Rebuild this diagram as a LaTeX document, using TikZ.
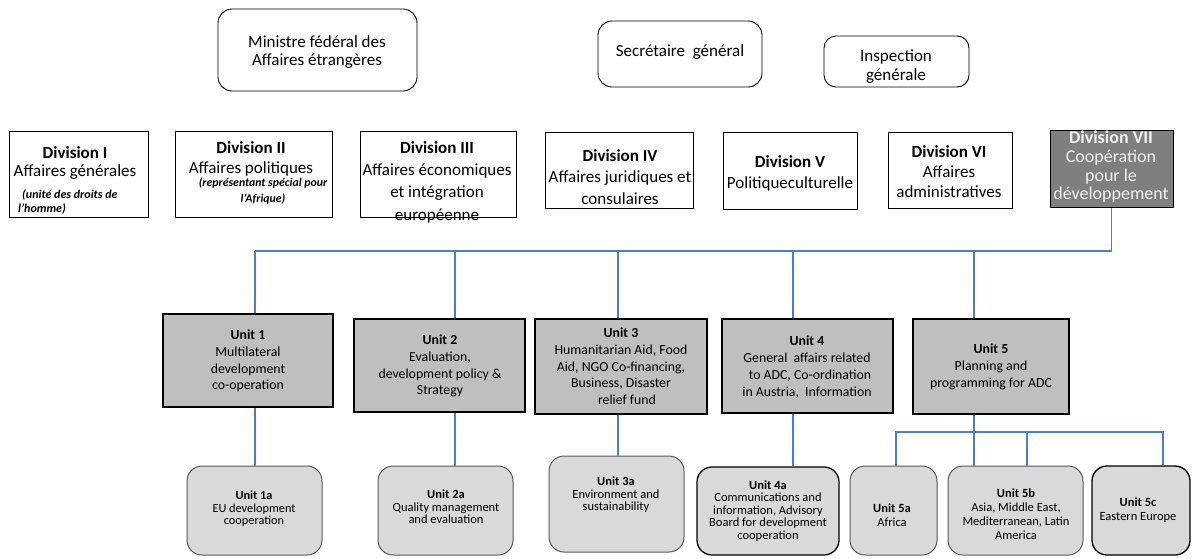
\documentclass[tikz,border=0pt]{standalone}
\usepackage{fontspec}
\setmainfont{Carlito}
\definecolor{connblue}{HTML}{4A7EC8}
\definecolor{unitgray}{HTML}{BFBFBF}
\definecolor{subgray}{HTML}{D9D9D9}
\definecolor{darkdiv}{HTML}{7F7F7F}
\definecolor{subborder}{HTML}{595959}
\newcommand\fsz[2]{\fontsize{#1}{#2}\selectfont}
\begin{document}
\begin{tikzpicture}[x=1pt,y=-1pt,
  topbox/.style={draw=black, line width=0.9pt, rounded corners=14pt, inner sep=0pt},
  divbox/.style={draw=black, line width=1pt, inner sep=0pt},
  unitbox/.style={draw=black, line width=1.2pt, fill=unitgray, inner sep=0pt},
  subbox/.style={draw=subborder, line width=1pt, fill=subgray, rounded corners=15pt, inner sep=0pt},
  subboxdark/.style={subbox, draw=black, line width=1.3pt},
  txt/.style={align=center, inner sep=0pt},
  conn/.style={draw=connblue, line width=1.1pt}]
\useasboundingbox (0,0) rectangle (1192,558);

% top row
\node[topbox, minimum width=199pt, minimum height=82pt] (min) at (317.5,50) {};
\node[txt, font=\fsz{17}{18.5}] (mint) at (317,52) {Ministre fédéral des\\Affaires étrangères};
\node[topbox, minimum width=164pt, minimum height=66pt] (sec) at (680,54) {};
\node[txt, font=\fsz{17}{18.5}] (sect) at (680,52) {Secrétaire~ général};
\node[topbox, rounded corners=12pt, minimum width=145pt, minimum height=51pt] (insp) at (896.5,61.5) {};
\node[txt, font=\fsz{17}{19}] (inspt) at (896,67) {Inspection\\générale};

% divisions
\node[divbox, minimum width=139pt, minimum height=86pt] (d1) at (78.5,174) {};
\node[txt, font=\fsz{17}{18}] (d1t) at (75,163) {\textbf{Division I}\\Affaires générales};
\node[txt, align=left, anchor=west, font=\fsz{12}{14}\bfseries\itshape] (d1n) at (18,202) {\hspace*{4pt}(unité des droits de\\l'homme)};

\node[divbox, minimum width=157pt, minimum height=86pt] (d2) at (253.5,174) {};
\node[txt, font=\fsz{17}{20}] (d2t) at (251,159) {\textbf{Division II}\\Affaires politiques};
\node[txt, font=\fsz{11.8}{15.5}\bfseries\itshape] (d2n) at (263,191) {(représentant spécial pour\\l'Afrique)};

\node[divbox, minimum width=156pt, minimum height=86pt] (d3) at (438,174) {};
\node[txt, font=\fsz{17}{22.3}] (d3t) at (437,182) {\textbf{Division III}\\Affaires économiques\\et intégration\\européenne};

\node[divbox, minimum width=148pt, minimum height=76pt] (d4) at (619,170) {};
\node[txt, font=\fsz{17}{21.5}] (d4t) at (620,177) {\textbf{Division IV}\\Affaires juridiques et\\consulaires};

\node[divbox, minimum width=134pt, minimum height=77pt] (d5) at (790,170.5) {};
\node[txt, font=\fsz{17}{21}] (d5t) at (790,173.5) {\textbf{Division V}\\Politiqueculturelle};

\node[divbox, minimum width=124pt, minimum height=76pt] (d6) at (950,170) {};
\node[txt, font=\fsz{17}{20}] (d6t) at (949,172) {\textbf{Division VI}\\Affaires\\administratives};

\node[divbox, fill=darkdiv, minimum width=123pt, minimum height=77pt] (d7) at (1111.5,168.5) {};
\node[txt, text=gray!12, font=\fsz{18}{18.7}] (d7t) at (1111,167) {\textbf{Division VII}\\Coopération\\pour le\\développement};

% units
\node[unitbox, minimum width=170pt, minimum height=93pt] (u1) at (248,360.5) {};
\node[txt, font=\fsz{13.8}{16.7}] (u1t) at (248,361) {\textbf{Unit 1}\\Multilateral\\development\\co-operation};
\node[unitbox, minimum width=171pt, minimum height=93pt] (u2) at (439.5,365.5) {};
\node[txt, font=\fsz{13.8}{16.7}] (u2t) at (440,366) {\textbf{Unit 2}\\Evaluation,\\development policy \&\\Strategy};
\node[unitbox, minimum width=172pt, minimum height=95pt] (u3) at (621,366.5) {};
\node[txt, font=\fsz{13.8}{16.7}] (u3t) at (621,366.5) {\textbf{Unit 3}\\Humanitarian Aid, Food\\Aid, NGO Co-financing,\\Business, Disaster\\\hspace*{12pt}relief fund};
\node[unitbox, minimum width=171pt, minimum height=94pt] (u4) at (807.5,366) {};
\node[txt, font=\fsz{13.8}{16.7}] (u4t) at (807,367) {\textbf{Unit 4}\\General~ affairs related\\\hspace*{6pt}to ADC, Co-ordination\\in Austria,~ Information};
\node[unitbox, minimum width=156pt, minimum height=95pt] (u5) at (991,366.5) {};
\node[txt, font=\fsz{13.8}{16.7}] (u5t) at (991,367) {\textbf{Unit 5}\\Planning and\\programming for ADC};

% sub-units
\node[subbox, minimum width=135pt, minimum height=89pt] (b1) at (254.5,510.5) {};
\node[txt, font=\fsz{12.3}{12.5}] (b1t) at (254,509) {\textbf{Unit 1a}\\EU development\\cooperation};
\node[subbox, minimum width=135pt, minimum height=89pt] (b2) at (445.5,510.5) {};
\node[txt, font=\fsz{12.5}{12.5}] (b2t) at (446,507) {\textbf{Unit 2a}\\Quality management\\and evaluation};
\node[subbox, minimum width=135pt, minimum height=96pt] (b3) at (616.5,504) {};
\node[txt, font=\fsz{12.5}{12.5}] (b3t) at (616,495) {\textbf{Unit 3a}\\Environment and\\sustainability};
\node[subboxdark, minimum width=142pt, minimum height=88pt] (b4) at (768,511) {};
\node[txt, font=\fsz{12.5}{12.5}] (b4t) at (768,511) {\textbf{Unit 4a}\\Communications and\\information, Advisory\\Board for development\\cooperation};
\node[subbox, minimum width=87pt, minimum height=89pt] (b5a) at (893.5,510.5) {};
\node[txt, font=\fsz{12.5}{14.5}] (b5at) at (892,515) {\textbf{Unit 5a}\\Africa};
\node[subbox, minimum width=135pt, minimum height=89pt] (b5b) at (1015.5,510.5) {};
\node[txt, font=\fsz{12.5}{14}] (b5bt) at (1016,514) {\textbf{Unit 5b}\\Asia, Middle East,\\Mediterranean, Latin\\America};
\node[subboxdark, minimum width=98pt, minimum height=89pt] (b5c) at (1141,510.5) {};
\node[txt, font=\fsz{12.5}{14}] (b5ct) at (1138,510) {\textbf{Unit 5c}\\Eastern Europe};

% connectors
\coordinate (busR) at (1111.5,251);
\coordinate (k1) at (255,251);
\coordinate (k2) at (455,251);
\coordinate (k3) at (618,251);
\coordinate (k4) at (793,251);
\coordinate (k5) at (974,251);
\draw[conn] (d7.south) -- (busR) -- (k1);
\draw[conn] (k1) -- (k1 |- u1.north);
\draw[conn] (k2) -- (k2 |- u2.north);
\draw[conn] (k3) -- (k3 |- u3.north);
\draw[conn] (k4) -- (k4 |- u4.north);
\draw[conn] (k5) -- (k5 |- u5.north);
\draw[conn] (k1 |- u1.south) -- (k1 |- b1.north);
\draw[conn] (k2 |- u2.south) -- (k2 |- b2.north);
\draw[conn] (k3 |- u3.south) -- (k3 |- b3.north);
\draw[conn] (k4 |- u4.south) -- (k4 |- b4.north);
\draw[conn] (k5 |- u5.south) -- (k5 |- b5b.north);
\coordinate (sL) at (896,432);
\coordinate (sM) at (1027,432);
\coordinate (sR) at (1163,432);
\draw[conn] (sL |- b5a.north) -- (sL) -- (sR) -- (sR |- b5c.north);
\draw[conn] (sM) -- (sM |- b5b.north);
\end{tikzpicture}
\end{document}
